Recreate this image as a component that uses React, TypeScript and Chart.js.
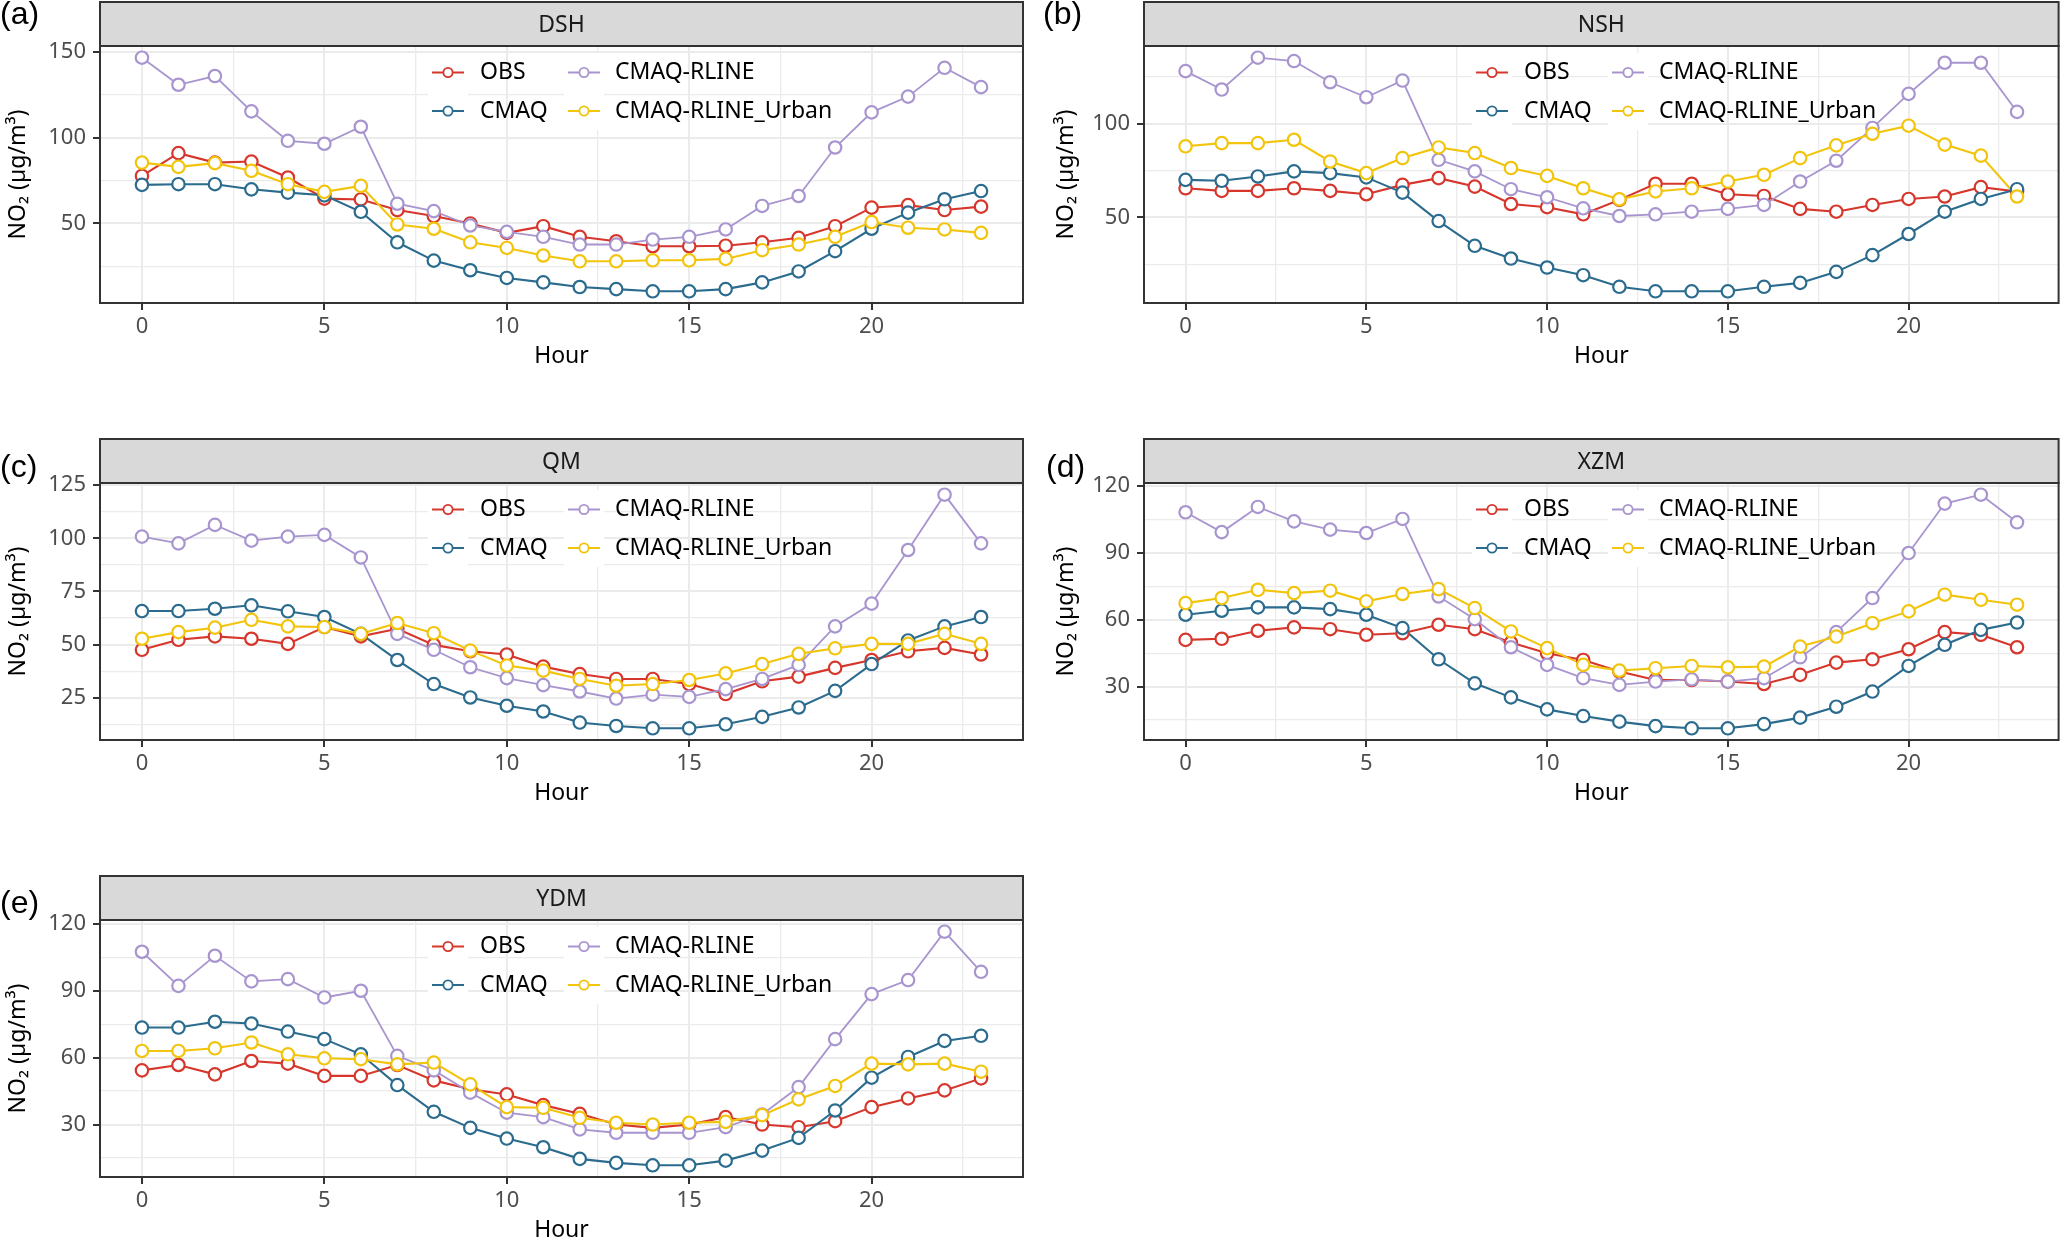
import React, { useEffect, useRef } from 'react';
import { Chart, registerables } from 'chart.js';

Chart.register(...registerables);

const FONT = '"Noto Sans", "Open Sans", "DejaVu Sans", sans-serif';

const hours = [0, 1, 2, 3, 4, 5, 6, 7, 8, 9, 10, 11, 12, 13, 14, 15, 16, 17, 18, 19, 20, 21, 22, 23];
const hourTicks = [0, 5, 10, 15, 20];
const seriesNames = ['OBS', 'CMAQ', 'CMAQ-RLINE', 'CMAQ-RLINE_Urban'];
const seriesColors = ['#D6362B', '#2A6B8E', '#A895CF', '#F2C40C'];

// (a) DSH
const dshObs = [77.7, 91, 85.5, 86.1, 76.8, 64.5, 64, 57.8, 54.3, 50, 44.5, 48.4, 42.2, 39.6, 36.7, 36.7, 37, 39, 41.6, 48.4, 59.2, 60.7, 57.8, 59.8];
const dshCmaq = [72.5, 72.9, 72.9, 69.9, 68, 66.4, 56.8, 39, 28.3, 22.7, 18.2, 15.6, 12.9, 11.7, 10.4, 10.4, 11.7, 15.6, 22, 33.8, 46.9, 56.3, 64.1, 68.9];
const dshRline = [146.7, 130.9, 136, 115.4, 98.2, 96.5, 106.4, 61.5, 57.2, 48.8, 45.1, 42.2, 37.7, 37.7, 40.6, 42.2, 46.5, 60.2, 66, 94.3, 114.8, 124, 140.8, 129.5];
const dshUrban = [85.5, 83, 85.2, 80.7, 72.9, 68.4, 71.9, 49.4, 46.9, 39, 35.7, 31.3, 27.9, 27.9, 28.5, 28.5, 29.3, 34.4, 37.7, 42.2, 50.8, 47.5, 46.5, 44.5];
const dshTicks = [50, 100, 150];

// (b) NSH
const nshObs = [65.5, 64.1, 64.1, 65.5, 64.1, 62.3, 67.3, 70.9, 66.4, 57.1, 55.4, 51.6, 59.3, 67.9, 67.9, 62.3, 61.4, 54.5, 53, 56.6, 59.8, 61.1, 66.1, 63.8];
const nshCmaq = [70, 69.5, 71.8, 74.5, 73.6, 71.3, 63.2, 48, 34.8, 28, 23.2, 19.1, 12.9, 10.5, 10.5, 10.5, 12.9, 15, 20.9, 29.8, 41.1, 53, 59.8, 65];
const nshRline = [128, 118.2, 135.2, 133.4, 122.1, 114.1, 123, 80.7, 74.5, 65, 60.7, 54.8, 50.7, 51.6, 53, 54.5, 56.6, 69.1, 80.2, 97.7, 115.9, 132.5, 132.5, 106.3];
const nshUrban = [87.9, 89.6, 89.6, 91.4, 79.8, 73.6, 81.6, 87.3, 84.3, 76.3, 72.1, 65.5, 59.6, 63.8, 65.5, 69.1, 72.7, 81.6, 88.4, 94.6, 98.9, 88.8, 82.9, 61.1];
const nshTicks = [50, 100];

// (c) QM
const qmObs = [47.6, 52.3, 53.9, 52.8, 50.4, 58.3, 53.9, 57.5, 49.9, 46.9, 45.4, 39.7, 36.2, 33.9, 33.9, 31.5, 26.8, 32.8, 35, 39.1, 42.8, 46.9, 48.5, 45.4];
const qmCmaq = [65.8, 65.8, 66.9, 68.5, 65.7, 63, 55.1, 42.8, 31.5, 25.2, 21.3, 18.6, 13.4, 11.8, 10.7, 10.7, 12.6, 16.1, 20.5, 28.3, 40.9, 52, 58.6, 63];
const qmRline = [100.8, 97.6, 106.3, 98.9, 100.8, 101.6, 91, 55.1, 47.6, 39.4, 34.3, 31, 28, 24.7, 26.5, 25.5, 29.1, 33.9, 40.5, 58.6, 69.3, 94.5, 120.5, 97.6];
const qmUrban = [52.8, 55.9, 58, 61.7, 58.6, 58.3, 55.1, 60.2, 55.4, 47.2, 40.2, 37.8, 33.9, 30.7, 31.5, 33.4, 36.5, 40.9, 45.7, 48.3, 50.4, 50.4, 55.1, 50.4];
const qmTicks = [25, 50, 75, 100, 125];

// (d) XZM
const xzmObs = [51, 51.5, 55.1, 56.6, 55.8, 53.3, 54, 57.8, 55.8, 49.8, 45, 42, 36.8, 33, 33, 32.3, 31.2, 35.3, 40.8, 42.3, 46.8, 54.5, 53.3, 47.7];
const xzmCmaq = [62.3, 64.1, 65.6, 65.6, 64.8, 62.3, 56.3, 42.3, 31.5, 25.2, 19.8, 16.8, 14.3, 12.3, 11.3, 11.3, 13.2, 16.1, 21, 27.8, 39.3, 48.8, 55.5, 58.8];
const xzmRline = [108.3, 99.4, 110.7, 104.2, 100.5, 99, 105.3, 70.5, 60.3, 47.7, 39.8, 33.8, 30.8, 32.3, 33.3, 32.3, 33.8, 43.2, 54.5, 69.8, 90, 112.2, 116.2, 103.8];
const xzmUrban = [67.5, 69.8, 73.5, 72, 73.1, 68.3, 71.6, 73.8, 65.3, 54.8, 47.3, 39.8, 37.2, 38.3, 39.3, 38.7, 39, 48, 52.5, 58.5, 63.8, 71.3, 69, 66.8];
const xzmTicks = [30, 60, 90, 120];

// (e) YDM
const ydmObs = [54.3, 56.7, 52.5, 58.5, 57.3, 51.8, 51.8, 56.7, 49.8, 45.8, 43.5, 38.7, 34.8, 30, 28.5, 30, 33.3, 30, 28.8, 31.5, 37.8, 41.7, 45.3, 50.7];
const ydmCmaq = [73.5, 73.5, 76.1, 75.3, 71.7, 68.3, 61.5, 47.7, 35.7, 28.5, 23.7, 19.8, 14.6, 12.8, 11.7, 11.7, 13.8, 18.3, 24, 36.3, 51, 60.3, 67.5, 69.8];
const ydmRline = [107.5, 92.2, 105.7, 94.2, 95.2, 87, 90, 60.8, 54.3, 44.3, 35.3, 33.3, 27.8, 26.3, 26.3, 26.3, 28.8, 34.5, 46.8, 68.3, 88.5, 94.8, 116.5, 98.5];
const ydmUrban = [63, 63, 64.2, 66.8, 61.5, 59.7, 59.3, 57, 57.8, 48, 37.8, 37.5, 33, 30.8, 30, 30.8, 31.2, 34.2, 41.3, 47.3, 57.3, 57, 57.3, 53.7];
const ydmTicks = [30, 60, 90, 120];

const panels = [
  { tag: '(a)', site: 'DSH', series: [dshObs, dshCmaq, dshRline, dshUrban], yTicks: dshTicks },
  { tag: '(b)', site: 'NSH', series: [nshObs, nshCmaq, nshRline, nshUrban], yTicks: nshTicks },
  { tag: '(c)', site: 'QM', series: [qmObs, qmCmaq, qmRline, qmUrban], yTicks: qmTicks },
  { tag: '(d)', site: 'XZM', series: [xzmObs, xzmCmaq, xzmRline, xzmUrban], yTicks: xzmTicks },
  { tag: '(e)', site: 'YDM', series: [ydmObs, ydmCmaq, ydmRline, ydmUrban], yTicks: ydmTicks },
];

const boxes = [
  { left: 0, top: 0, width: 1035, padRight: 12, titlePad: 5, tagLeft: 0, tagTop: -3 },
  { left: 1044, top: 0, width: 1023, padRight: 3, titlePad: 9, tagLeft: 1043, tagTop: -3 },
  { left: 0, top: 437, width: 1035, padRight: 12, titlePad: 5, tagLeft: 0, tagTop: 450 },
  { left: 1044, top: 437, width: 1023, padRight: 3, titlePad: 9, tagLeft: 1046, tagTop: 450 },
  { left: 0, top: 874, width: 1035, padRight: 12, titlePad: 5, tagLeft: 0, tagTop: 886 },
];

const CANVAS_H = 380;

function withMinors(majors: number[], lo: number, hi: number): number[] {
  const step = majors.length > 1 ? majors[1] - majors[0] : 5;
  const half = step / 2;
  let v = majors[0];
  while (v - half >= lo) v -= half;
  const out: number[] = [];
  for (; v <= hi + 1e-9; v += half) out.push(Math.round(v * 1000) / 1000);
  return out;
}

const decorPlugin = {
  id: 'panelDecor',
  afterDatasetsDraw(chart: any) {
    const { ctx, chartArea } = chart;
    const { left, top } = chartArea;
    ctx.save();
    const keyX = [348, 484];
    const labX = [380, 515];
    const rowY = [26.5, 65];
    for (let c = 0; c < 2; c++) {
      ctx.fillStyle = '#FFFFFF';
      ctx.fillRect(left + keyX[c] - 20, top + 7, 40, 77);
    }
    seriesNames.forEach((name, i) => {
      const c = Math.floor(i / 2);
      const r = i % 2;
      const cx = left + keyX[c];
      const cy = top + rowY[r];
      ctx.strokeStyle = seriesColors[i];
      ctx.lineWidth = 2;
      ctx.beginPath();
      ctx.moveTo(cx - 16, cy);
      ctx.lineTo(cx + 16, cy);
      ctx.stroke();
      ctx.beginPath();
      ctx.arc(cx, cy, 4.6, 0, Math.PI * 2);
      ctx.fillStyle = '#FFFFFF';
      ctx.fill();
      ctx.lineWidth = 1.8;
      ctx.stroke();
      ctx.fillStyle = '#000000';
      ctx.font = `23px ${FONT}`;
      ctx.textAlign = 'left';
      ctx.textBaseline = 'middle';
      ctx.fillText(name, left + labX[c], cy);
    });
    ctx.restore();
  },
  afterDraw(chart: any, _args: any, opts: any) {
    const { ctx, chartArea } = chart;
    const { left, right, top, bottom } = chartArea;
    ctx.save();
    ctx.strokeStyle = '#333333';
    ctx.lineWidth = 2;
    ctx.strokeRect(left, top, right - left, bottom - top);
    const sh = 44;
    ctx.fillStyle = '#D9D9D9';
    ctx.fillRect(left, top - sh, right - left, sh);
    ctx.strokeRect(left, top - sh, right - left, sh);
    ctx.fillStyle = '#1A1A1A';
    ctx.font = `23px ${FONT}`;
    ctx.textAlign = 'center';
    ctx.textBaseline = 'middle';
    ctx.fillText(opts.site, (left + right) / 2, top - sh / 2 + 1);
    ctx.restore();
  },
};

function Panel({ panel, box }: { panel: any; box: any }) {
  const ref = useRef<HTMLCanvasElement>(null);
  useEffect(() => {
    if (!ref.current) return;
    const all: number[] = panel.series.flat();
    const lo = Math.min(...all);
    const hi = Math.max(...all);
    const yPad = (hi - lo) * 0.05;
    const yMin = lo - yPad;
    const yMax = hi + yPad;
    const xPad = (hours[hours.length - 1] - hours[0]) * 0.05;
    const xMin = hours[0] - xPad;
    const xMax = hours[hours.length - 1] + xPad;
    const yAll = withMinors(panel.yTicks, yMin, yMax);
    const xAll = withMinors(hourTicks, xMin, xMax);
    const yMajor = (v: number) => panel.yTicks.includes(v);
    const xMajor = (v: number) => hourTicks.includes(v);

    const datasets: any[] = [];
    panel.series.forEach((vals: number[], i: number) => {
      const pts = hours.map((h, j) => ({ x: h, y: vals[j] }));
      datasets.push({
        label: seriesNames[i] + ' points',
        data: pts,
        showLine: false,
        pointRadius: 6.2,
        pointBorderWidth: 2.2,
        pointBorderColor: seriesColors[i],
        pointBackgroundColor: '#FFFFFF',
        order: 4 - i,
      });
      datasets.push({
        label: seriesNames[i],
        data: pts,
        showLine: true,
        borderColor: seriesColors[i],
        borderWidth: i === 2 ? 1.8 : 2.1,
        pointRadius: 0,
        fill: false,
        tension: 0,
        order: 8 - i,
      });
    });

    const chart = new Chart(ref.current, {
      type: 'line',
      data: { datasets },
      plugins: [decorPlugin as any],
      options: {
        animation: false,
        responsive: true,
        maintainAspectRatio: false,
        layout: { padding: { top: 46, left: 0, right: box.padRight, bottom: 0 } },
        plugins: {
          legend: { display: false },
          tooltip: { enabled: false },
          panelDecor: { site: panel.site },
        } as any,
        scales: {
          x: {
            type: 'linear',
            min: xMin,
            max: xMax,
            bounds: 'data',
            afterBuildTicks: (s: any) => {
              s.ticks = xAll.map((v) => ({ value: v }));
            },
            afterFit: (s: any) => {
              s.height = 77;
            },
            border: { display: false },
            grid: {
              color: '#EBEBEB',
              lineWidth: (c: any) => (c.tick && xMajor(c.tick.value) ? 2 : 1.3),
              tickColor: (c: any) => (c.tick && xMajor(c.tick.value) ? '#333333' : 'rgba(0,0,0,0)'),
              tickLength: 7,
              tickWidth: 2,
            },
            ticks: {
              autoSkip: false,
              maxRotation: 0,
              padding: 4,
              color: '#4D4D4D',
              font: { family: FONT, size: 22 },
              callback: (v: any) => (xMajor(Number(v)) ? String(v) : ''),
            },
            title: {
              display: true,
              text: 'Hour',
              color: '#000000',
              font: { family: FONT, size: 23 },
              padding: { top: 0, bottom: 10 },
            },
          },
          y: {
            type: 'linear',
            min: yMin,
            max: yMax,
            bounds: 'data',
            afterBuildTicks: (s: any) => {
              s.ticks = yAll.map((v) => ({ value: v }));
            },
            afterFit: (s: any) => {
              s.width = 100;
            },
            border: { display: false },
            grid: {
              color: '#EBEBEB',
              lineWidth: (c: any) => (c.tick && yMajor(c.tick.value) ? 2 : 1.3),
              tickColor: (c: any) => (c.tick && yMajor(c.tick.value) ? '#333333' : 'rgba(0,0,0,0)'),
              tickLength: 7,
              tickWidth: 2,
            },
            ticks: {
              autoSkip: false,
              padding: 7,
              color: '#4D4D4D',
              font: { family: FONT, size: 22 },
              callback: (v: any) => (yMajor(Number(v)) ? String(v) : ''),
            },
            title: {
              display: true,
              text: 'NO₂ (µg/m³)',
              color: '#000000',
              font: { family: FONT, size: 23 },
              padding: { top: box.titlePad, bottom: 0 },
            },
          },
        },
      } as any,
    });
    return () => chart.destroy();
  }, [panel, box]);

  return (
    <div style={{ position: 'absolute', left: box.left, top: box.top, width: box.width, height: CANVAS_H }}>
      <canvas ref={ref} />
    </div>
  );
}

export default function App() {
  return (
    <div
      style={{
        position: 'absolute',
        left: 0,
        top: 0,
        width: 2067,
        height: 1239,
        overflow: 'hidden',
        background: '#FFFFFF',
      }}
    >
      {panels.map((p, i) => (
        <Panel key={p.site} panel={p} box={boxes[i]} />
      ))}
      {panels.map((p, i) => (
        <div
          key={p.tag}
          style={{
            position: 'absolute',
            left: boxes[i].tagLeft,
            top: boxes[i].tagTop,
            fontFamily: '"Liberation Sans", Arial, sans-serif',
            fontSize: 32,
            lineHeight: '32px',
            color: '#000000',
            whiteSpace: 'nowrap',
          }}
        >
          {p.tag}
        </div>
      ))}
    </div>
  );
}
